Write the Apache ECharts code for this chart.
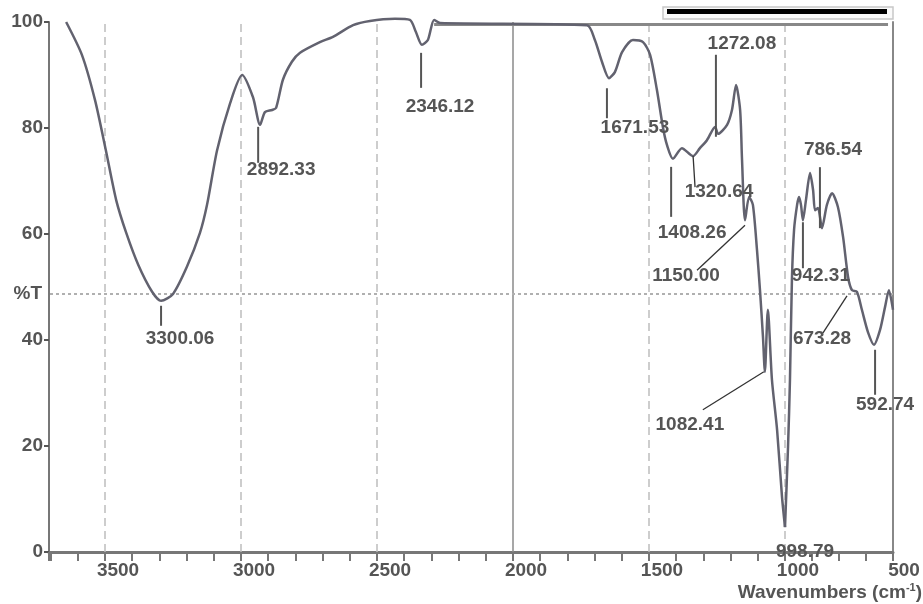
<!DOCTYPE html>
<html><head><meta charset="utf-8">
<script src="https://cdn.jsdelivr.net/npm/echarts/dist/echarts.min.js"></script>
<style>html,body{margin:0;padding:0;background:#fff}#c{width:923px;height:604px}</style>
</head><body><div id="c"></div>
<script>
// ---- data ----
const wavenumbers = [3643,3585,3537,3497,3459,3422,3378,3327,3294,3250,3199,3151,3125,3088,3040,2996,2956,2930,2912,2886,2871,2846,2813,2783,2710,2662,2588,2526,2434,2379,2357,2335,2313,2290,2268,1728,1699,1673,1647,1625,1599,1559,1522,1496,1471,1449,1434,1412,1379,1338,1313,1287,1257,1246,1213,1195,1180,1165,1158,1147,1132,1118,1103,1092,1081,1074,1063,1048,1029,1011,1000,986,977,968,958,944,935,926,917,903,884,870,861,847,829,806,782,755,731,708,690,667,644,616,588,560,537,519,500];
const transmittance = [100,93.8,85.3,75.8,66.4,60.2,54.2,49.1,47.4,48.7,53.8,60.2,65.5,75.8,84.7,90.0,85.8,80.6,83.0,83.4,83.8,89.1,92.5,94.2,96.2,97.2,99.4,100.2,100.6,100.4,98.1,95.7,96.6,100.4,99.8,99.4,96.6,92.5,89.4,90.6,94.3,96.6,96.2,93.8,87.2,80.2,76.8,74.2,76.2,74.7,76.2,77.7,80.2,78.9,80.6,83.4,88.1,83.4,74.0,62.6,67.0,65.5,57.0,49.4,40.6,34.0,45.7,32.5,23.0,10.4,4.7,19.8,32.5,51.3,60.8,65.5,67.0,65.5,62.6,66.4,71.5,68.3,64.5,64.9,61.1,65.5,67.7,65.1,59.4,51.9,49.4,49.1,45.7,41.5,39.1,41.9,46.2,49.4,45.7];
const peakLabels = ['3300.06','2892.33','2346.12','1671.53','1272.08','1320.64','1408.26','1150.00','1082.41','998.79','942.31','786.54','673.28','592.74'];
const peakWn = [3294,2937,2338,1651,1254,1338,1415,1147,1074,1000,917,829,713,583];
const peakT = [47.4,80.6,95.5,89.2,79.1,74.7,73.8,62.6,34.0,4.7,62.6,61.1,48.9,39.1];
const yTicks = [0,20,40,60,80,100];
const xLabelTicks = [3500,3000,2500,2000,1500,1000,500];
const dashedGridWn = [3500,3000,2500,1500,1000];
const solidGridWn = [2000];
const referenceLevel = 48.7;   // dotted %T line
const baselineLevel = 99.6;    // flat top line
const baselineFrom = 2290, baselineTo = 523;
const axisBreakWn = 1000;      // scale changes below 1000 cm-1

// ---- styling / layout (not data) ----
const TXT = '#555';
const FONT = '"Liberation Sans", Arial, sans-serif';
const annLine = [[0,5,0,25],[0,2,0,38],[0,7,0,42],[-1,9,-1,39],[0,4,0,-78],[0,0,2,31],[-1,6,-1,56],[0,5,-48,50],[-1,0,-62,38],null,[0,2,0,48],[-2,0,-2,-61],[0,3,-24,40],[0,5,0,50]];
const annText = [[19,38],[23,45],[19,61],[27,49],[26,-89],[26,36],[20,72],[-59,56],[-75,53],[20,25],[18,56],[11,-78],[-25,46],[10,60]];

const pts = wavenumbers.map((w,i)=>[w, transmittance[i]]);
const hiData = pts.filter(p=>p[0] >= axisBreakWn);
const loData = pts.filter(p=>p[0] <= axisBreakWn);
const annAll = peakWn.map((w,i)=>[w, peakT[i], i]);
const annHi = annAll.filter(a=>a[0] >= axisBreakWn);
const annLo = annAll.filter(a=>a[0] < axisBreakWn);

function renderAnn(params, api){
  const i = api.value(2);
  const p = api.coord([api.value(0), api.value(1)]);
  const children = [];
  const l = annLine[i];
  if (l){
    const diag = l[0] !== l[2];
    children.push({type:'line', shape:{x1:p[0]+l[0], y1:p[1]+l[1], x2:p[0]+l[2], y2:p[1]+l[3]},
      style:{stroke: diag ? '#333' : '#555', lineWidth: diag ? 1.3 : 2}});
  }
  const t = annText[i];
  children.push({type:'text', x:p[0]+t[0], y:p[1]+t[1], z2:10,
    style:{text: peakLabels[i], fill: TXT, font: 'bold 19px ' + FONT, align:'center', verticalAlign:'middle'}});
  return {type:'group', children};
}

const labelStyle = {color: TXT, fontWeight:'bold', fontSize:19, fontFamily: FONT};
const lineColor = '#62626f';

const option = {
  animation:false,
  backgroundColor:'#fff',
  grid:[
    {left:49, right:138, top:22, bottom:52},
    {left:785, right:30, top:22, bottom:52}
  ],
  xAxis:[
    {gridIndex:0, type:'value', inverse:true, min:axisBreakWn, max:3706, interval:100,
     axisLine:{lineStyle:{color:'#777', width:3}},
     axisTick:{length:9, lineStyle:{color:'#777', width:2}},
     splitLine:{show:false},
     axisLabel:Object.assign({}, labelStyle, {margin:9, padding:[0,0,0,26], showMaxLabel:true,
       formatter:v=> xLabelTicks.includes(v) ? String(v) : ''})},
    {gridIndex:1, type:'value', inverse:true, min:500, max:axisBreakWn, interval:125,
     axisLine:{lineStyle:{color:'#777', width:3}},
     axisTick:{length:9, lineStyle:{color:'#777', width:2}},
     splitLine:{show:false},
     axisLabel:Object.assign({}, labelStyle, {margin:9, padding:[0,0,0,22],
       formatter:v=> (v===500) ? String(v) : ''})}
  ],
  yAxis:[
    {gridIndex:0, type:'value', min:0, max:100, interval:20,
     axisLine:{show:true, lineStyle:{color:'#777', width:2}},
     axisTick:{show:true, length:5, lineStyle:{color:'#555', width:2}},
     splitLine:{show:false},
     axisLabel:Object.assign({}, labelStyle, {margin:6, formatter:v=> yTicks.includes(v) ? String(v) : ''})},
    {gridIndex:1, type:'value', min:0, max:100, interval:20, position:'right',
     axisLine:{show:true, lineStyle:{color:'#888', width:2}},
     axisTick:{show:false}, axisLabel:{show:false}, splitLine:{show:false}}
  ],
  series:[
    {type:'line', xAxisIndex:0, yAxisIndex:0, data:hiData, showSymbol:false, smooth:0.25, clip:false,
     lineStyle:{color:lineColor, width:2.5}, z:5,
     markLine:{silent:true, symbol:'none', animation:false,
       data:[
         ...dashedGridWn.map(w=>({xAxis:w, lineStyle:{type:[8,5], color:'#bdbdbd', width:1.5}, label:{show:false}})),
         ...solidGridWn.map(w=>({xAxis:w, lineStyle:{type:'solid', color:'#8a8a8a', width:1.5}, label:{show:false}})),
         {yAxis:referenceLevel, lineStyle:{type:[3,3], color:'#b0b0b0', width:2},
          label:{show:true, position:'end', formatter:'%T', distance:7, color:TXT, fontWeight:'bold', fontSize:19, fontFamily:FONT}},
         [{coord:[baselineFrom, baselineLevel], lineStyle:{type:'solid', color:'#888', width:3}, label:{show:false}},{coord:[axisBreakWn, baselineLevel]}]
       ]}},
    {type:'line', xAxisIndex:1, yAxisIndex:1, data:loData, showSymbol:false, smooth:0.25, clip:false,
     lineStyle:{color:lineColor, width:2.5}, z:5,
     markLine:{silent:true, symbol:'none', animation:false,
       data:[
         {yAxis:referenceLevel, lineStyle:{type:[3,3], color:'#b0b0b0', width:2}, label:{show:false}},
         [{coord:[axisBreakWn, baselineLevel], lineStyle:{type:'solid', color:'#888', width:3}, label:{show:false}},{coord:[baselineTo, baselineLevel]}]
       ]}},
    {type:'custom', xAxisIndex:0, yAxisIndex:0, data:annHi, renderItem:renderAnn, z:10, silent:true},
    {type:'custom', xAxisIndex:1, yAxisIndex:1, data:annLo, renderItem:renderAnn, z:10, silent:true}
  ],
  graphic:[
    {type:'rect', shape:{x:663, y:7, width:230, height:12}, style:{fill:'#fafafa', stroke:'#c8c8c8', lineWidth:1.5}, z:20},
    {type:'rect', shape:{x:667, y:9, width:220, height:5}, style:{fill:'#000'}, z:21},
    {type:'text', right:1, bottom:2, z:20,
     style:{text:'Wavenumbers (cm{sup|-1})', fill:TXT, font:'bold 19px ' + FONT,
       rich:{sup:{fontSize:11, fontWeight:'bold', fill:TXT, verticalAlign:'top', padding:[0,0,10,0], fontFamily:FONT}}}}
  ]
};
const chart = echarts.init(document.getElementById('c'), null, {renderer:'canvas'});
chart.setOption(option);
</script></body></html>
